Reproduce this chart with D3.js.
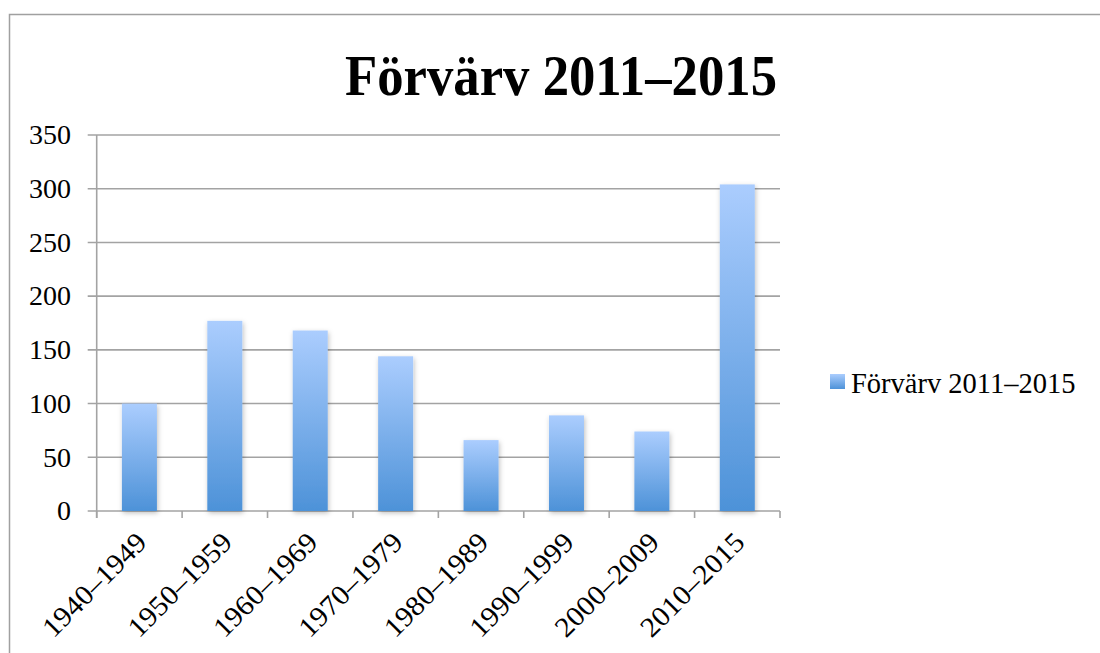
<!DOCTYPE html>
<html>
<head>
<meta charset="utf-8">
<script src="https://cdn.jsdelivr.net/npm/d3@7"></script>
<style>
  body { margin: 0; background: #fff; }
  svg { display: block; }
  text { font-family: "Liberation Serif", serif; fill: #000; }
</style>
</head>
<body>
<script>
// data
var categories = ["1940–1949", "1950–1959", "1960–1969", "1970–1979",
                  "1980–1989", "1990–1999", "2000–2009", "2010–2015"];
var values = [100, 177, 168, 144, 66, 89, 74, 304];
var yTicks = [0, 50, 100, 150, 200, 250, 300, 350];
var seriesName = "Förvärv 2011–2015";
var title = "Förvärv 2011–2015";

var width = 1100, height = 653;
var plotLeft = 96.7, plotRight = 780, plotTop = 135, plotBottom = 511;

var svg = d3.select("body").append("svg")
  .attr("width", width)
  .attr("height", height);

var defs = svg.append("defs");
var grad = defs.append("linearGradient")
  .attr("id", "barGrad")
  .attr("x1", 0).attr("y1", 0).attr("x2", 0).attr("y2", 1);
grad.append("stop").attr("offset", "0%").attr("stop-color", "#abcdfe");
grad.append("stop").attr("offset", "100%").attr("stop-color", "#4d92d8");

var shadow = defs.append("filter").attr("id", "shadow")
  .attr("x", "-30%").attr("y", "-10%").attr("width", "160%").attr("height", "130%");
shadow.append("feDropShadow")
  .attr("dx", 1).attr("dy", 2).attr("stdDeviation", 2.5)
  .attr("flood-color", "#000").attr("flood-opacity", 0.25);

// chart border
svg.append("rect")
  .attr("x", 9.5).attr("y", 14.5)
  .attr("width", 1200).attr("height", 800)
  .attr("fill", "none")
  .attr("stroke", "#a0a0a0")
  .attr("stroke-width", 1.5);

var x = d3.scaleBand()
  .domain(categories)
  .range([plotLeft, plotRight])
  .paddingInner(0.59)
  .paddingOuter(0.295);

var y = d3.scaleLinear()
  .domain([0, 350])
  .range([plotBottom, plotTop]);

// gridlines
svg.append("g")
  .selectAll("line")
  .data(yTicks)
  .join("line")
  .attr("x1", plotLeft - 9).attr("x2", plotRight)
  .attr("y1", function(d) { return y(d); })
  .attr("y2", function(d) { return y(d); })
  .attr("stroke", "#a3a3a3")
  .attr("stroke-width", 1.6);

// y axis line
svg.append("line")
  .attr("x1", plotLeft).attr("x2", plotLeft)
  .attr("y1", plotTop).attr("y2", plotBottom + 7)
  .attr("stroke", "#a3a3a3").attr("stroke-width", 1.6);

// y labels
svg.append("g")
  .selectAll("text")
  .data(yTicks)
  .join("text")
  .attr("x", 71)
  .attr("y", function(d) { return y(d); })
  .attr("dy", "0.33em")
  .attr("text-anchor", "end")
  .style("font-size", "28px")
  .text(function(d) { return d; });

// x ticks at band boundaries
var step = x.step();
var boundaries = d3.range(categories.length + 1).map(function(i) { return plotLeft + i * step; });
svg.append("g")
  .selectAll("line")
  .data(boundaries)
  .join("line")
  .attr("x1", function(d) { return d; }).attr("x2", function(d) { return d; })
  .attr("y1", plotBottom).attr("y2", plotBottom + 7)
  .attr("stroke", "#a3a3a3").attr("stroke-width", 1.6);

// bars
svg.append("g")
  .selectAll("rect")
  .data(values)
  .join("rect")
  .attr("x", function(d, i) { return x(categories[i]); })
  .attr("y", function(d) { return y(d); })
  .attr("width", x.bandwidth())
  .attr("height", function(d) { return plotBottom - y(d); })
  .attr("fill", "url(#barGrad)")
  .attr("filter", "url(#shadow)");

// x labels
svg.append("g")
  .selectAll("text")
  .data(categories)
  .join("text")
  .attr("transform", function(d) {
    var cx = x(d) + x.bandwidth() / 2 + 2;
    return "translate(" + cx + "," + (plotBottom + 26) + ") rotate(-45)";
  })
  .attr("text-anchor", "end")
  .attr("dy", "0.35em")
  .attr("textLength", 134)
  .attr("lengthAdjust", "spacingAndGlyphs")
  .style("font-size", "28px")
  .text(function(d) { return d; });

// title
svg.append("text")
  .attr("x", 561)
  .attr("y", 95)
  .attr("text-anchor", "middle")
  .attr("textLength", 432)
  .attr("lengthAdjust", "spacingAndGlyphs")
  .style("font-size", "57px")
  .style("font-weight", "bold")
  .text(title);

// legend
svg.append("rect")
  .attr("x", 830).attr("y", 374)
  .attr("width", 15).attr("height", 15)
  .attr("fill", "url(#barGrad)");
svg.append("text")
  .attr("x", 851).attr("y", 393)
  .style("font-size", "28.5px")
  .text(seriesName);
</script>
</body>
</html>
